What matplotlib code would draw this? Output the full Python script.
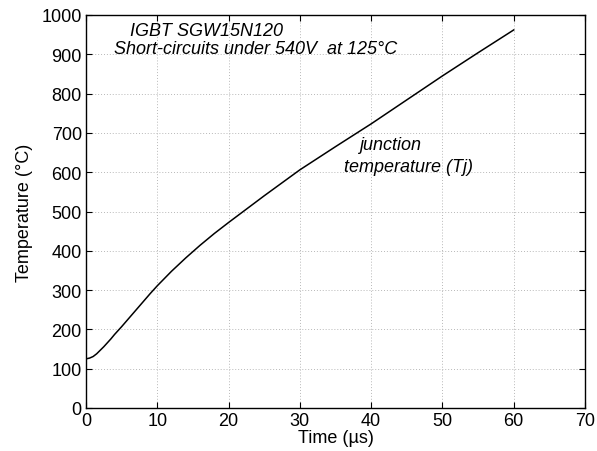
import numpy as np
import matplotlib.pyplot as plt

plt.rcParams['font.family'] = ['Liberation Sans', 'DejaVu Sans']

# junction temperature
t_us = [0, 0.5, 1, 1.5, 2, 2.5, 3, 3.5, 4, 5, 6, 7, 8, 9, 10, 12, 14, 16, 18, 20,
        25, 30, 35, 40, 45, 50, 55, 60]
tj = [125, 127, 131, 138, 147, 156, 166, 176, 187, 207, 228, 249, 270, 291, 311,
      348, 382, 414, 444, 472, 540, 606, 665, 723, 784, 845, 904, 962]

xticks = [0, 10, 20, 30, 40, 50, 60, 70]
yticks = [0, 100, 200, 300, 400, 500, 600, 700, 800, 900, 1000]

fig = plt.figure(figsize=(5.97, 4.52), dpi=100)
ax = fig.add_axes([86/597, 1-409/452, (585-86)/597, (409-16)/452])

ax.plot(t_us, tj, color='black', lw=1.1)

ax.set_xlim(0, 70)
ax.set_ylim(0, 1000)
ax.set_xticks(xticks)
ax.set_yticks(yticks)
ax.grid(True, linestyle=(0, (1, 2)), color='#b8b8b8', lw=0.7)
ax.tick_params(direction='in', top=True, right=True, labelsize=13, length=4, pad=3)
for s in ax.spines.values():
    s.set_linewidth(1.0)

ax.set_xlabel('Time (µs)', fontsize=13, labelpad=0)
ax.set_ylabel('Temperature (°C)', fontsize=13, labelpad=6)

fs = 13
fig.text(206/597, 1-31/452, 'IGBT SGW15N120', fontsize=fs, style='italic',
         ha='center', va='center')
fig.text(256/597, 1-50/452, 'Short-circuits under 540V  at 125°C', fontsize=fs,
         style='italic', ha='center', va='center')
fig.text(390/597, 1-146/452, 'junction', fontsize=fs, style='italic',
         ha='center', va='center')
fig.text(409/597, 1-168/452, 'temperature (Tj)', fontsize=fs, style='italic',
         ha='center', va='center')

plt.savefig('out.png')
